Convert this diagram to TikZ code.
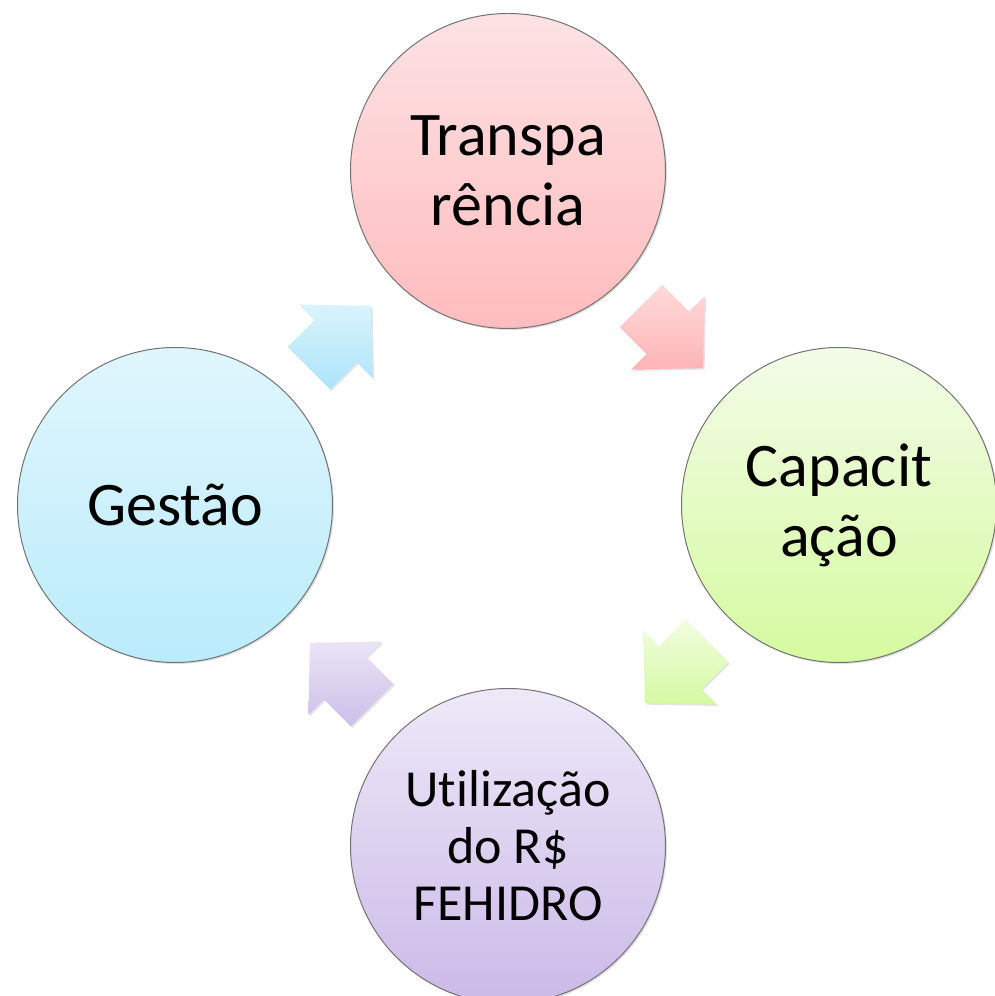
\documentclass[tikz,border=0pt]{standalone}
\usepackage{fontspec}
\setmainfont[Ligatures=NoCommon]{Carlito}
\usetikzlibrary{calc,shadows}
\definecolor{redtop}{RGB}{253,226,228}
\definecolor{redbot}{RGB}{255,188,190}
\definecolor{greentop}{RGB}{243,252,232}
\definecolor{greenbot}{RGB}{214,250,160}
\definecolor{bluetop}{RGB}{224,246,253}
\definecolor{bluebot}{RGB}{186,236,252}
\definecolor{purptop}{RGB}{238,233,248}
\definecolor{purpbot}{RGB}{203,185,232}
\definecolor{aredtop}{RGB}{255,218,218}
\definecolor{aredbot}{RGB}{255,180,182}
\definecolor{abluetop}{RGB}{218,243,252}
\definecolor{abluebot}{RGB}{172,228,250}
\definecolor{agreentop}{RGB}{242,252,224}
\definecolor{agreenbot}{RGB}{212,250,162}
\definecolor{apurptop}{RGB}{234,228,246}
\definecolor{apurpbot}{RGB}{205,190,232}
\tikzset{
  bubble/.style={circle, minimum size=315pt, inner sep=0pt, align=center,
    draw=black!55, line width=1pt,
    drop shadow={opacity=0.25, shadow xshift=1.5pt, shadow yshift=-1.5pt},
    font=\fontsize{62pt}{70pt}\selectfont},
  blockarrow/.style={draw=none,
    drop shadow={opacity=0.22, shadow xshift=1.5pt, shadow yshift=-1.5pt}}
}
\newcommand{\cyclearrow}[4]{%
  \path[blockarrow, top color=#3, bottom color=#4]
    ($(#1)+(#2+214.29:53.25)$) -- ($(#1)+(#2+258.69:30.59)$) --
    ($(#1)+(#2+263.42:52.35)$) -- ($(#1)+(#2:44)$) --
    ($(#1)+(#2+96.58:52.35)$) -- ($(#1)+(#2+101.31:30.59)$) --
    ($(#1)+(#2+145.71:53.25)$) -- cycle;}
\begin{document}
\begin{tikzpicture}[x=1pt,y=1pt]
\useasboundingbox (0,0) rectangle (995,996);
\fill[white] (0,0) rectangle (995,996);
% arrows
\coordinate (ab) at (340,659);
\coordinate (ar) at (672,659);
\coordinate (ag) at (676,324);
\coordinate (ap) at (341,322);
\cyclearrow{ab}{45}{abluetop}{abluebot}
\cyclearrow{ar}{-45}{aredtop}{aredbot}
\cyclearrow{ag}{-135}{agreentop}{agreenbot}
\cyclearrow{ap}{135}{apurptop}{apurpbot}
% circles
\node[bubble, top color=redtop, bottom color=redbot] (t) at (508,825) {Transpa\\rência};
\node[bubble, top color=greentop, bottom color=greenbot] (c) at (839,491) {Capacit\\ação};
\node[bubble, top color=bluetop, bottom color=bluebot] (g) at (175,491) {Gestão};
\node[bubble, top color=purptop, bottom color=purpbot, font=\fontsize{52pt}{57pt}\selectfont] (u) at (508,150) {Utilização\\do R\$\\FEHIDRO};
\end{tikzpicture}
\end{document}
